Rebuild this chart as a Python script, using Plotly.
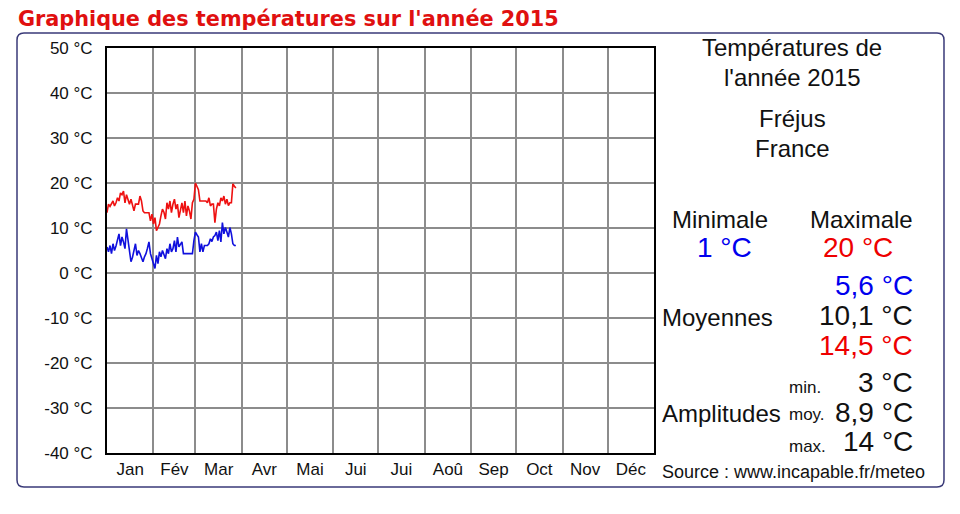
import plotly.graph_objects as go

# ---------------- data ----------------
days = list(range(87))  # day index from 1 Jan 2015
t_max = [13.4, 15.3, 14.8, 15.3, 16.0, 14.9, 15.6, 16.7, 16.0, 17.8,
         17.4, 18.2, 15.6, 17.4, 16.0, 15.3, 16.4, 15.0, 13.8, 15.3,
         15.3, 15.3, 17.1, 16.0, 13.8, 13.4, 13.4, 13.4, 13.4, 11.6,
         13.1, 10.9, 12.3, 9.4, 10.1, 10.9, 12.7, 14.2, 13.5, 12.0,
         15.6, 14.2, 16.0, 13.4, 15.3, 16.4, 14.2, 15.3, 12.3, 14.0,
         15.6, 13.4, 16.0, 12.7, 14.9, 13.8, 12.0, 15.6, 16.4, 20.0,
         19.0, 18.5, 16.0, 16.0, 16.0, 16.0, 16.0, 15.6, 16.7, 14.9,
         15.3, 15.3, 11.2, 14.2, 15.6, 14.9, 16.7, 16.0, 17.1, 15.3,
         16.4, 15.0, 15.6, 15.6, 19.8, 19.3, 18.9]
t_min = [5.8, 4.7, 6.1, 4.3, 6.5, 5.0, 6.0, 7.2, 8.7, 6.1,
         8.0, 6.9, 5.4, 9.8, 7.2, 5.0, 2.5, 3.5, 4.7, 6.5,
         3.9, 5.0, 4.3, 3.2, 2.5, 3.6, 4.3, 5.5, 6.9, 4.3,
         3.2, 2.5, 1.0, 3.9, 2.1, 4.7, 3.6, 5.0, 4.0, 3.2,
         5.4, 4.3, 6.5, 4.7, 5.4, 7.2, 4.7, 8.0, 5.8, 6.5,
         6.9, 4.3, 4.3, 4.3, 4.3, 4.3, 4.3, 4.3, 7.2, 9.1,
         8.5, 8.0, 4.7, 6.5, 4.7, 6.1, 6.1, 6.1, 6.5, 7.6,
         7.0, 8.0, 8.3, 9.1, 7.2, 9.4, 6.9, 11.2, 8.7, 10.1,
         9.1, 8.0, 10.1, 8.7, 6.5, 6.1, 6.1]

month_labels = ["Jan", "Fév", "Mar", "Avr", "Mai", "Jui", "Jui", "Aoû",
                "Sep", "Oct", "Nov", "Déc"]
month_lengths = [31, 28, 31, 30, 31, 30, 31, 31, 30, 31, 30, 31]
y_ticks = [50, 40, 30, 20, 10, 0, -10, -20, -30, -40]
y_tick_text = [f"{v} °C" for v in y_ticks]

# ---------------- layout geometry ----------------
# the page body has an 8px margin, so the figure is drawn at (8, 8)
OFF = 8
W, H = 960 - OFF, 514 - OFF
L, R, T, B = 107 - OFF, 306, 48 - OFF, 61
PW, PH = W - L - R, H - T - B


def fx(px):
    return (px - OFF - L) / PW


def fy(py):
    return (H - B - (py - OFF)) / PH


starts = [0]
for n in month_lengths:
    starts.append(starts[-1] + n)
month_bounds = starts[1:-1]
month_mids = [(starts[i] + starts[i + 1]) / 2 for i in range(12)]

FONT = "Liberation Sans, Arial, sans-serif"

fig = go.Figure()
fig.add_trace(go.Scatter(x=days, y=t_max, mode="lines",
                         line=dict(color="#ee1111", width=1.6),
                         showlegend=False, hoverinfo="skip"))
fig.add_trace(go.Scatter(x=days, y=t_min, mode="lines",
                         line=dict(color="#1010dd", width=1.6),
                         showlegend=False, hoverinfo="skip"))

fig.update_xaxes(range=[0, 365], showgrid=False, zeroline=False,
                 tickmode="array", tickvals=month_mids, ticktext=month_labels,
                 ticks="", ticklabelstandoff=0,
                 tickfont=dict(family=FONT, size=17, color="#111"),
                 showline=True, mirror=True, linecolor="#000", linewidth=2,
                 minor=dict(tickmode="array", tickvals=month_bounds,
                            showgrid=True, gridcolor="#8c8c8c", gridwidth=1.5,
                            ticks=""))
fig.update_yaxes(range=[-40, 50], tickmode="array", tickvals=y_ticks,
                 ticktext=y_tick_text, showgrid=True, gridcolor="#8c8c8c",
                 gridwidth=1.5, zeroline=False, ticks="", ticklabelstandoff=9,
                 tickfont=dict(family=FONT, size=17, color="#111"),
                 showline=True, mirror=True, linecolor="#000", linewidth=2)

# rounded border
x0, x1, y0, y1, r = 17, 944, 33, 487, 7


def P(px, py):
    return f"{fx(px):.5f},{fy(py):.5f}"


path = (f"M {P(x0 + r, y0)} L {P(x1 - r, y0)} Q {P(x1, y0)} {P(x1, y0 + r)} "
        f"L {P(x1, y1 - r)} Q {P(x1, y1)} {P(x1 - r, y1)} "
        f"L {P(x0 + r, y1)} Q {P(x0, y1)} {P(x0, y1 - r)} "
        f"L {P(x0, y0 + r)} Q {P(x0, y0)} {P(x0 + r, y0)} Z")
fig.add_shape(type="path", path=path, xref="paper", yref="paper",
              line=dict(color="#3a3a78", width=1.5), layer="below")

annotations = []


def txt(s, px, py, size, color="#111", anchor="center", family=FONT, bold=False):
    if bold:
        s = f"<b>{s}</b>"
    annotations.append(dict(text=s, x=fx(px), y=fy(py), xref="paper", yref="paper",
                            xanchor=anchor, yanchor="middle", showarrow=False,
                            font=dict(family=family, size=size, color=color)))


txt("Graphique des températures sur l'année 2015", 16, 19.5, 20.8, "#e01010", "left",
    family="DejaVu Sans, Verdana, sans-serif", bold=True)
txt("Températures de", 792, 47, 24)
txt("l'année 2015", 792, 77, 24)
txt("Fréjus", 792, 118, 24)
txt("France", 792, 148, 24)
txt("Minimale", 720, 219, 24)
txt("Maximale", 862, 219, 24)
txt("1 °C", 724, 247, 28, "#0000ee")
txt("20 °C", 858, 247, 28, "#ee0000")
txt("5,6 °C", 915, 285, 28, "#0000ee", "right")
txt("Moyennes", 660, 317, 24, "#111", "left")
txt("10,1 °C", 915, 315, 28, "#111", "right")
txt("14,5 °C", 915, 345, 28, "#ee0000", "right")
txt("min.", 787, 387, 17, "#111", "left")
txt("3 °C", 915, 382, 28, "#111", "right")
txt("Amplitudes", 660, 413, 24, "#111", "left")
txt("moy.", 787, 414, 17, "#111", "left")
txt("8,9 °C", 915, 412, 28, "#111", "right")
txt("max.", 787, 446, 17, "#111", "left")
txt("14 °C", 915, 441, 28, "#111", "right")
txt("Source : www.incapable.fr/meteo", 660, 472, 18, "#111", "left")

fig.update_layout(width=W, height=H, margin=dict(l=L, r=R, t=T, b=B),
                  paper_bgcolor="white", plot_bgcolor="white",
                  annotations=annotations, showlegend=False)

fig.write_html("out.html")
